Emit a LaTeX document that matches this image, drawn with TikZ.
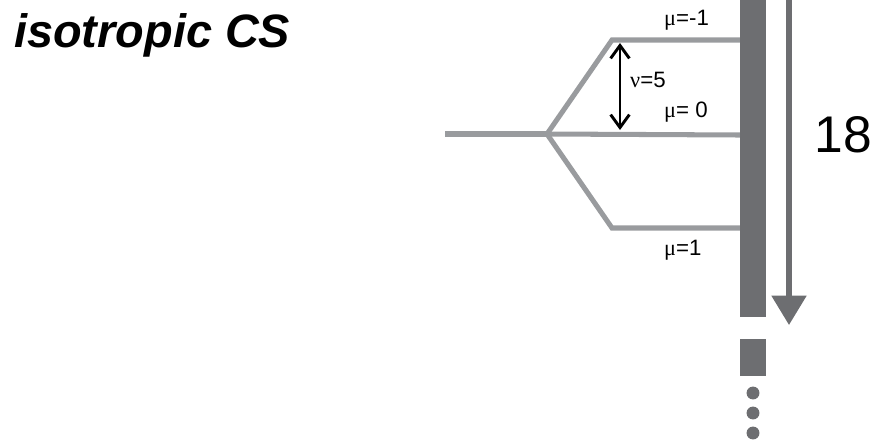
\documentclass[tikz,border=0pt]{standalone}
\usepackage{fontspec}
\setmainfont{Liberation Sans}
\newfontfamily\greekfont{Liberation Serif}
\usepackage{tikz}
\usetikzlibrary{arrows.meta}
\definecolor{branchgray}{RGB}{153,155,158}
\definecolor{bargray}{RGB}{109,110,113}

\begin{document}
\begin{tikzpicture}[x=0.03cm,y=-0.03cm,>=stealth,
  branch/.style={draw=branchgray,line width=4.3pt,line join=miter},
  lbl/.style={anchor=west,inner sep=0pt,font=\fontsize{19}{22}\selectfont}]
\useasboundingbox (0,0) rectangle (873,440);

\node[anchor=base west,inner sep=0pt,font=\fontsize{40}{44}\selectfont\bfseries\itshape] (title) at (14,47) {isotropic CS};

% levels
\coordinate (in) at (445,134);
\coordinate (split) at (547,134);
\coordinate (up) at (612,40);
\coordinate (down) at (612,228);
\coordinate (top) at (740,40);
\coordinate (mid) at (740,135);
\coordinate (bot) at (740,228);

\draw[branch] (in) -- (split);
\draw[branch] (split) -- (up) -- (top);
\draw[branch] (split) -- (mid);
\draw[branch] (split) -- (down) -- (bot);

% stack
\fill[bargray] (740,0) rectangle (766,317);
\fill[bargray] (740,339) rectangle (766,376);
\foreach \y in {393,413,433}
  \fill[bargray] (753,\y) circle[radius=5.5pt];

\coordinate (s) at (789,0);
\coordinate (e) at (789,325);
\draw[bargray,line width=4.3pt,-{Triangle[width=29pt,length=25pt]}] (s) -- (e);
\node[font=\fontsize{44}{48}\selectfont] (n) at (843,135) {18};

% splitting
\coordinate (a) at (620,43);
\coordinate (b) at (620,130);
\draw[line width=2.5pt,{Straight Barb[width=16pt,length=11pt]}-{Straight Barb[width=16pt,length=11pt]}] (a) -- (b);
\node[lbl] (nu) at (630,80) {{\greekfont ν}=5};

\node[lbl] (m1) at (664,20) {{\greekfont μ}=-1};
\node[lbl] (m0) at (664,112) {{\greekfont μ}= 0};
\node[lbl] (p1) at (664,250) {{\greekfont μ}=1};
\end{tikzpicture}
\end{document}
